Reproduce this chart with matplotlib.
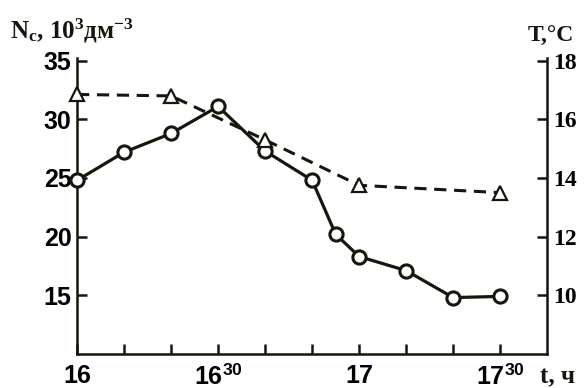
import matplotlib
matplotlib.use("Agg")
import matplotlib.pyplot as plt
from matplotlib.ticker import FixedLocator

plt.rcParams["mathtext.fontset"] = "custom"
plt.rcParams["mathtext.rm"] = "Liberation Serif:bold"
plt.rcParams["mathtext.bf"] = "Liberation Serif:bold"
plt.rcParams["mathtext.it"] = "Liberation Serif:bold"
plt.rcParams["mathtext.sf"] = "Liberation Sans:bold"

# time in minutes after 16:00
t_n = [0, 10, 20, 30, 40, 50, 55, 60, 70, 80, 90]
n_c = [24.8, 27.2, 28.8, 31.1, 27.3, 24.8, 20.2, 18.3, 17.1, 14.8, 14.9]
t_temp = [0, 20, 40, 60, 90]
temp = [16.85, 16.8, 15.3, 13.75, 13.5]

x_ticks = [0, 10, 20, 30, 40, 50, 60, 70, 80, 90]
x_labels = ["16", "", "", r"16$^{\mathsf{30}}$", "", "", "17", "", "", r"17$^{\mathsf{30}}$"]
n_ticks = [15, 20, 25, 30, 35]
t_ticks = [10, 12, 14, 16, 18]

ink = "#14170c"
sans = "Liberation Sans"
serif = "Liberation Serif"

fig = plt.figure(figsize=(5.84, 3.88), dpi=100)
ax = fig.add_axes([0.132, 0.088, 0.805, 0.763])
ax2 = ax.twinx()

ax.plot(t_n, n_c, "-", color=ink, lw=2.3, marker="o", ms=9.5, mfc="white",
        mec=ink, mew=2.2, clip_on=False, zorder=5)
ax2.plot(t_temp, temp, color=ink, lw=2.2, ls=(0, (4, 2.5)), marker="^", ms=10,
         mfc="white", mec=ink, mew=1.6, clip_on=False, zorder=4)

ax.set_xlim(0, 100)
ax.set_ylim(10, 35.25)
ax2.set_ylim(8, 18.1)

for a in (ax, ax2):
    a.spines["top"].set_visible(False)
    for s in a.spines.values():
        s.set_linewidth(1.8)
        s.set_color(ink)
ax.spines["right"].set_visible(False)
ax2.spines["left"].set_visible(False)
ax2.spines["bottom"].set_visible(False)

ax.xaxis.set_major_locator(FixedLocator(x_ticks))
ax.set_xticklabels(x_labels)
ax.set_yticks(n_ticks)
ax2.set_yticks(t_ticks)

ax.tick_params(axis="x", direction="in", length=7, width=1.8, color=ink, pad=7)
ax.tick_params(axis="y", direction="in", length=7, width=1.8, color=ink, pad=4)
ax2.tick_params(axis="y", direction="in", length=7, width=1.8, color=ink, pad=4)

for lab in ax.get_xticklabels():
    lab.set_fontfamily(sans)
    lab.set_fontweight("bold")
    lab.set_fontsize(18)
for lab in ax.get_yticklabels():
    lab.set_fontfamily(sans)
    lab.set_fontweight("bold")
    lab.set_fontsize(18)
for lab in ax2.get_yticklabels():
    lab.set_fontfamily(serif)
    lab.set_fontweight("bold")
    lab.set_fontsize(17)

fig.text(0.017, 0.9, r"N$_{\mathrm{c}}$, 10$^{3}$дм$^{-3}$", fontfamily=serif,
         fontweight="bold", fontsize=18, va="baseline", ha="left", color=ink)
fig.text(0.983, 0.893, "T,°C", fontfamily=serif, fontweight="bold", fontsize=17,
         va="baseline", ha="right", color=ink)
fig.text(0.985, 0.012, "t, ч", fontfamily=serif, fontweight="bold", fontsize=18,
         va="baseline", ha="right", color=ink)

plt.savefig("out.png", dpi=100)
plt.close()
